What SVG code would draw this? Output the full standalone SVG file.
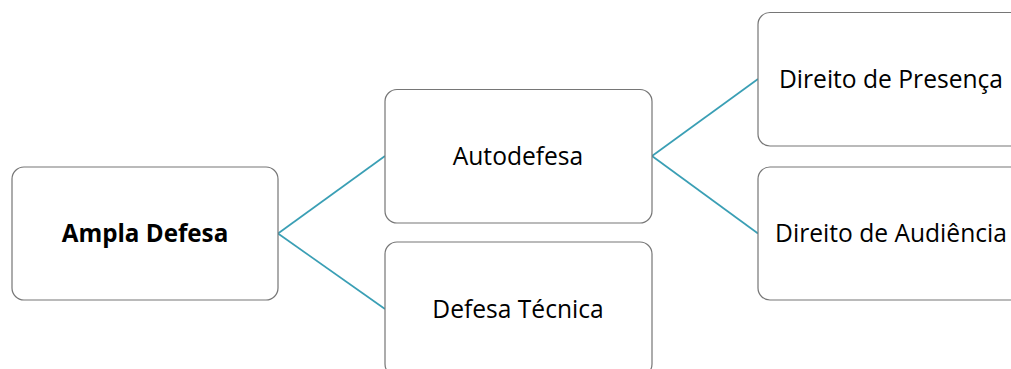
<svg xmlns="http://www.w3.org/2000/svg" width="1011" height="369" viewBox="0 0 1011 369">
<style>
.box{fill:#ffffff;stroke:#767676;stroke-width:1.2}
.lbl{font-family:"Open Sans","Noto Sans",sans-serif;font-size:24.6px;fill:#000000;text-anchor:middle}
.b{font-weight:bold;font-size:24.2px}
.con{stroke:#3a9fb5;stroke-width:1.7;fill:none}
</style>
<rect width="1011" height="369" fill="#ffffff"/>
<g id="connectors">
<line class="con" x1="278" y1="233.5" x2="385" y2="156"/>
<line class="con" x1="278" y1="233.5" x2="385" y2="309"/>
<line class="con" x1="652" y1="156" x2="758" y2="79"/>
<line class="con" x1="652" y1="156" x2="758" y2="233.5"/>
</g>
<g id="ampla-defesa">
<rect class="box" x="12" y="167" width="266" height="133" rx="12"/>
<text class="lbl b" x="145" y="242">Ampla Defesa</text>
</g>
<g id="autodefesa">
<rect class="box" x="385" y="89.5" width="267" height="133.5" rx="12"/>
<text class="lbl" x="518" y="165">Autodefesa</text>
</g>
<g id="defesa-tecnica">
<rect class="box" x="385" y="242" width="267" height="134" rx="12"/>
<text class="lbl" x="518" y="318">Defesa Técnica</text>
</g>
<g id="direito-presenca">
<rect class="box" x="758" y="12.5" width="267" height="133.5" rx="12"/>
<text class="lbl" x="891" y="88">Direito de Presença</text>
</g>
<g id="direito-audiencia">
<rect class="box" x="758" y="167" width="267" height="133" rx="12"/>
<text class="lbl" x="891" y="242">Direito de Audiência</text>
</g>
</svg>
